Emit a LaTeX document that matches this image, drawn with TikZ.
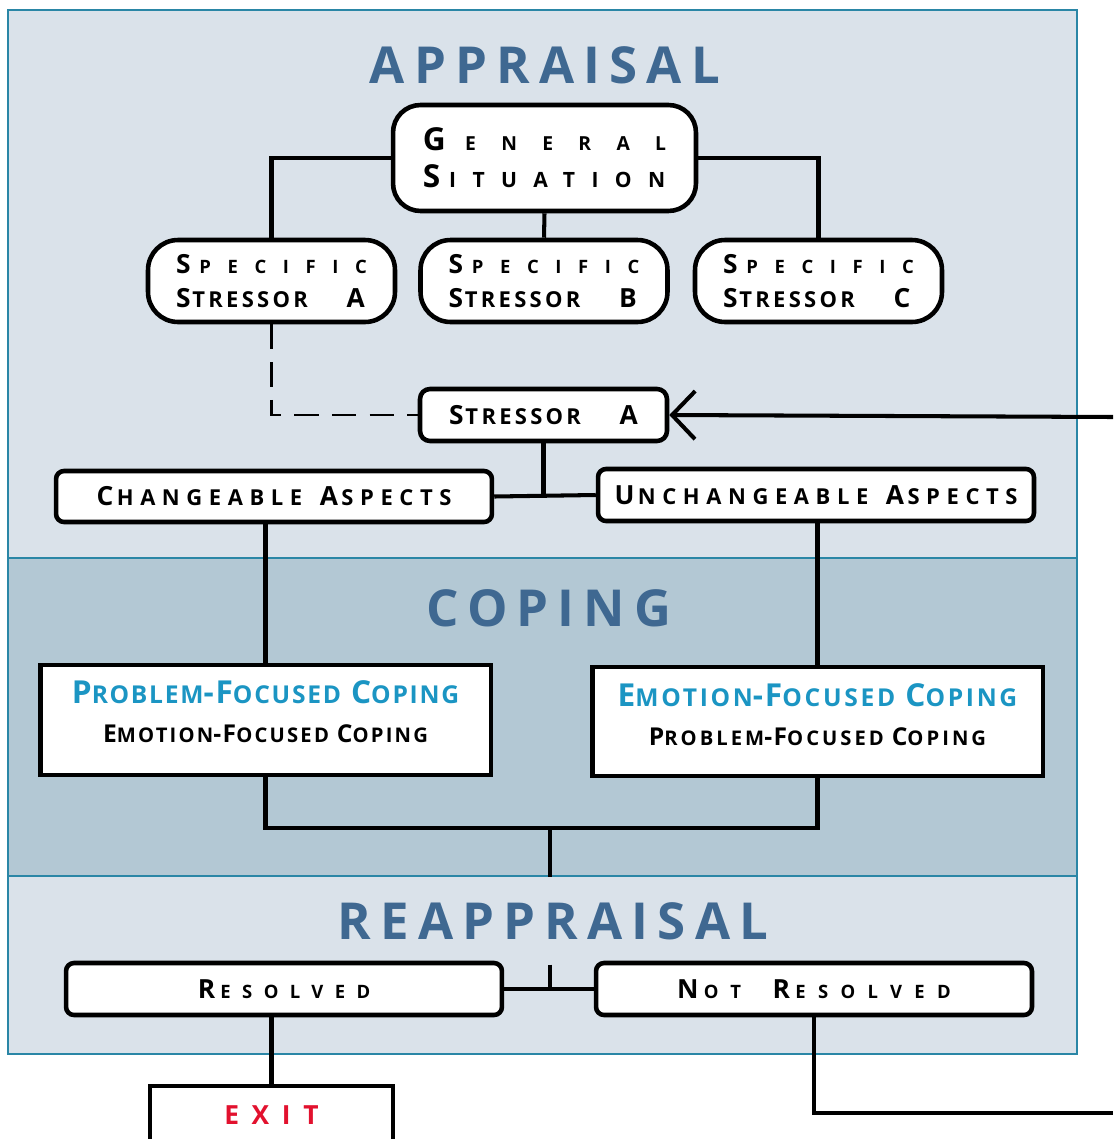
\documentclass[tikz,border=0pt]{standalone}
\usepackage{fontspec}
\setmainfont{Open Sans}
\usepackage{tikz}
\usetikzlibrary{arrows.meta}

\definecolor{apbg}{HTML}{DAE2EA}
\definecolor{copbg}{HTML}{B3C8D4}
\definecolor{framecol}{HTML}{2A86A6}
\definecolor{titleblue}{HTML}{3F6891}
\definecolor{copeblue}{HTML}{1B95C3}
\definecolor{exitred}{HTML}{E2112E}

%% fake small caps: big initial, then smaller spaced letters
\newcommand{\lsp}[1]{\addfontfeature{LetterSpace=#1}}
\newcommand{\scset}[3]{\def\losize{#1}\def\scls{#2}\def\scgap{#3}}
\scset{10}{0}{0pt}
\newcommand{\sm}[1]{\kern\scgap{\fontsize{\losize}{\losize}\selectfont\lsp{\scls}#1}}

\tikzset{
  stage/.style={font=\fontsize{29}{32}\selectfont\bfseries\lsp{18}, text=titleblue, inner sep=0pt},
  roundbox/.style={draw, fill=white, line width=2.6pt, rounded corners=#1, align=left, inner sep=0pt},
  flatbox/.style={draw, fill=white, line width=2.8pt, align=center, inner sep=0pt},
  link/.style={line width=2.3pt},
}

\begin{document}
\begin{tikzpicture}[x=0.02cm,y=-0.02cm]
  \useasboundingbox (0,0) rectangle (1113,1139);
  %% Background bands
  \draw[fill=apbg,draw=framecol,line width=0.9pt] (8,10) rectangle (1077,558);
  \draw[fill=copbg,draw=framecol,line width=0.9pt] (8,558) rectangle (1077,876);
  \draw[fill=apbg,draw=framecol,line width=0.9pt] (8,876) rectangle (1077,1054);
  %% Stage titles
  \node[stage] (appraisal) at (545,65) {APPRAISAL};
  \node[stage] (coping) at (549,608) {COPING};
  \node[stage,inner ysep=14pt] (reappraisal) at (553,921) {REAPPRAISAL};
  %% Appraisal
  \node[roundbox=0.55cm,minimum width=6.06cm,minimum height=2.12cm,
        font=\fontsize{18}{21}\selectfont\bfseries] (general) at (544.5,158)
        {{\scset{11}{131}{11pt}G\sm{ENERAL}}\\{\scset{12}{78}{5pt}S\sm{ITUATION}}};
  \foreach \name/\letter/\px in {specA/A/271.5, specB/B/544, specC/C/818.5}
    \node[roundbox=0.6cm,minimum width=4.94cm,minimum height=1.64cm,
          font=\fontsize{15}{19}\selectfont\bfseries] (\name) at (\px,281)
          {{\scset{10.5}{90}{5pt}S\sm{PECIFIC}}\\{\scset{12.5}{15}{1pt}S\sm{TRESSOR}\hspace{22pt}\letter}};
  \node[roundbox=0.2cm,minimum width=4.94cm,minimum height=1.04cm,
        font=\fontsize{15}{19}\selectfont\bfseries\scset{12.5}{15}{1pt}] (stressA) at (543.5,415)
        {S\sm{TRESSOR}\hspace{22pt}A};
  \node[roundbox=0.16cm,minimum width=8.72cm,minimum height=1.02cm,
        font=\fontsize{15}{19}\selectfont\bfseries\scset{12.5}{30}{2pt}] (change) at (274,496.5)
        {C\sm{HANGEABLE}\hspace{10pt}A\sm{SPECTS}};
  \node[roundbox=0.16cm,minimum width=8.72cm,minimum height=1.04cm,
        font=\fontsize{15}{19}\selectfont\bfseries\scset{12.5}{30}{2pt}] (unchange) at (816,495)
        {U\sm{NCHANGEABLE}\hspace{10pt}A\sm{SPECTS}};
  %% Coping
  \node[flatbox,minimum width=9.02cm,minimum height=2.2cm,
        font=\fontsize{18}{22}\selectfont\bfseries\lsp{6}\scset{14}{7}{0pt}] (problem) at (265.5,720)
        {{\color{copeblue}P\sm{ROBLEM}-F\sm{OCUSED} C\sm{OPING}}\\
         {\fontsize{14}{16}\selectfont\scset{11.5}{11}{0pt}E\sm{MOTION}-F\sm{OCUSED} C\sm{OPING}\rule[-10pt]{0pt}{1pt}}};
  \node[flatbox,minimum width=9.02cm,minimum height=2.18cm,
        font=\fontsize{18}{22}\selectfont\bfseries\lsp{6}\scset{14}{11}{0pt}] (emotion) at (817.5,721.5)
        {{\color{copeblue}E\sm{MOTION}-F\sm{OCUSED} C\sm{OPING}}\\
         {\fontsize{14}{16}\selectfont\scset{11.5}{15}{0pt}P\sm{ROBLEM}-F\sm{OCUSED} C\sm{OPING}\rule[-8pt]{0pt}{1pt}}};
  %% Reappraisal
  \node[roundbox=0.16cm,minimum width=8.72cm,minimum height=1.04cm,
        font=\fontsize{15}{19}\selectfont\bfseries\scset{10.5}{62}{3pt}] (resolved) at (284,989)
        {R\sm{ESOLVED}};
  \node[roundbox=0.16cm,minimum width=8.72cm,minimum height=1.04cm,
        font=\fontsize{15}{19}\selectfont\bfseries\scset{10.5}{67}{3pt}] (notres) at (814,989)
        {N\sm{OT}\hspace{18pt}R\sm{ESOLVED}};
  \node[flatbox,minimum width=4.86cm,minimum height=1.16cm,text=exitred,
        font=\fontsize{15}{19}\selectfont\bfseries\lsp{48}] (exit) at (271.5,1115) {EXIT};
  \coordinate (back) at (1113,417);
  \coordinate (cjoin) at (550,828);
  \coordinate (out) at (1113,1113);
  %% Tree links
  \draw[link] (general.west) -| (specA.north);
  \draw[link] (general.east) -| (specC.north);
  \draw[link] (general.south) -- (specB.north);
  \draw[link,dashed,dash pattern=on 14pt off 7.5pt,line width=1.7pt] (specA.south) |- (stressA.west);
  \draw[link,-{Straight Barb[length=4.6mm,width=9.6mm,line width=2.3pt]}] (back) -- (stressA.east);
  \draw[link] (stressA.south) -- (stressA.south |- change.east);
  \draw[link] (change.east) -- (unchange.west);
  \draw[link] (problem.north) -- (problem.north |- change.south);
  \draw[link] (emotion.north) -- (emotion.north |- unchange.south);
  %% Join of coping
  \draw[link] (problem.south) |- (cjoin) -| (emotion.south);
  \draw[link] (cjoin) -- (cjoin |- reappraisal.north);
  \draw[link] (cjoin |- reappraisal.south) -- (cjoin |- resolved.east);
  \draw[link] (resolved.east) -- (notres.west);
  \draw[link] (exit.north) -- (exit.north |- resolved.south);
  \draw[link] (notres.south) |- (out);
\end{tikzpicture}
\end{document}
